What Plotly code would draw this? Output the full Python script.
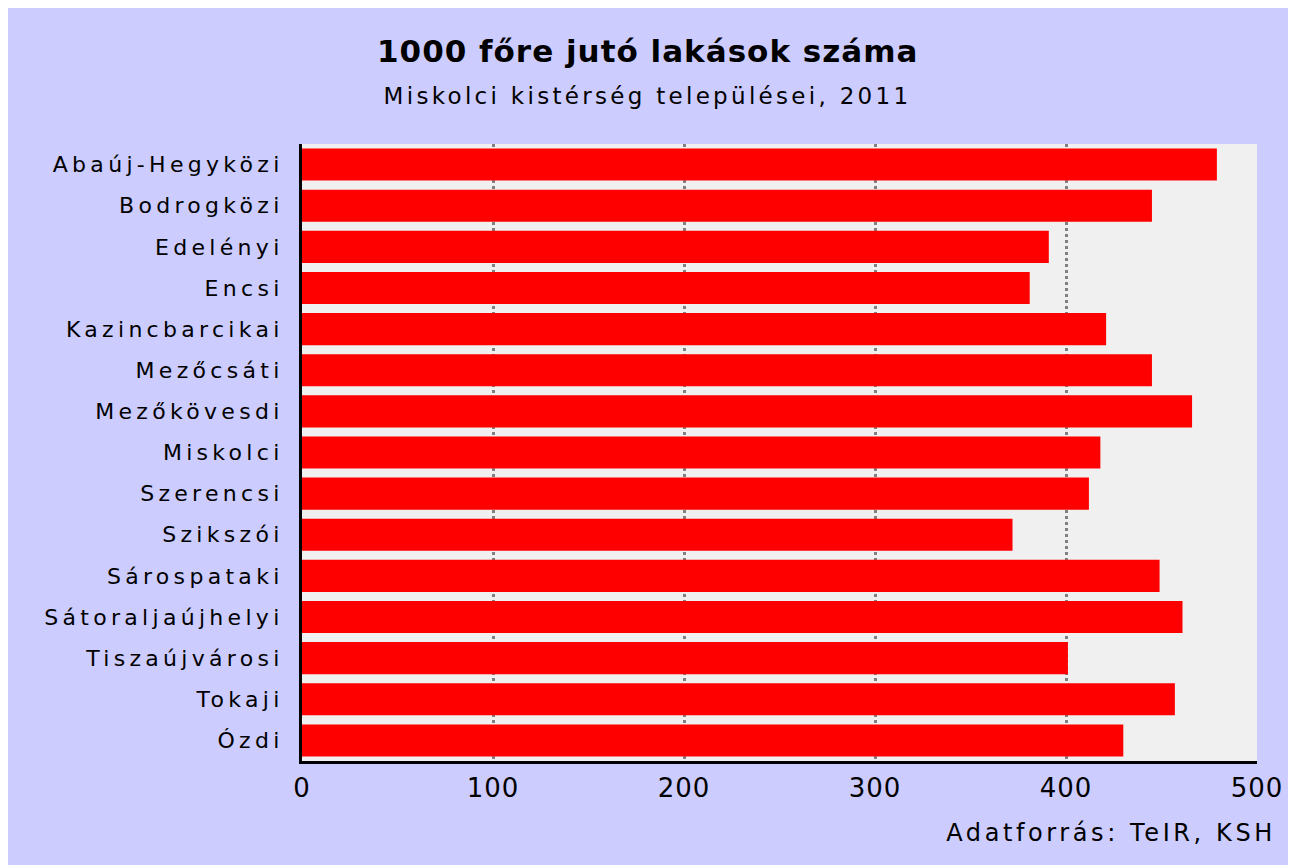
import plotly.graph_objects as go

categories = ["Abaúj-Hegyközi", "Bodrogközi", "Edelényi", "Encsi", "Kazincbarcikai",
              "Mezőcsáti", "Mezőkövesdi", "Miskolci", "Szerencsi", "Szikszói",
              "Sárospataki", "Sátoraljaújhelyi", "Tiszaújvárosi", "Tokaji", "Ózdi"]
values = [479, 445, 391, 381, 421, 445, 466, 418, 412, 372, 449, 461, 401, 457, 430]
x_ticks = [0, 100, 200, 300, 400, 500]

title_text = "1000 főre jutó lakások száma"
subtitle_text = "Miskolci kistérség települései, 2011"
source_text = "Adatforrás: TeIR, KSH"

# page body has an 8px margin: work in page coords minus 8
OFF = 8
W, H = 1296 - OFF, 865 - OFF
L, T = 302 - OFF, 144 - OFF
R = W - (1257 - OFF)
B = H - (761 - OFF)
pw, ph = W - L - R, H - T - B

def px(x):
    return (x - OFF - L) / pw

def py(y):
    return (H - B - (y - OFF)) / ph

fig = go.Figure(go.Bar(
    x=values, y=categories, orientation="h",
    marker=dict(color="#FF0000", line=dict(width=0)),
))

FONT = "DejaVu Sans"
fig.update_layout(
    width=W, height=H,
    margin=dict(l=L, r=R, t=T, b=B, autoexpand=False),
    paper_bgcolor="#CCCCFF",
    plot_bgcolor="#F0F0F0",
    bargap=0.22,
    showlegend=False,
    font=dict(family=FONT, color="black"),
    xaxis=dict(
        range=[0, 500], tickvals=x_ticks, ticktext=[str(v) for v in x_ticks],
        showgrid=True, gridcolor="#808080", gridwidth=3, griddash="dot",
        zeroline=False, showline=True, linecolor="black", linewidth=3,
        ticks="", tickfont=dict(size=26, family=FONT), ticklabelstandoff=2,
        fixedrange=True,
    ),
    yaxis=dict(
        autorange="reversed", showgrid=False, zeroline=False,
        showline=True, linecolor="black", linewidth=3,
        ticks="", tickfont=dict(size=22, family=FONT), ticklabelstandoff=11,
        fixedrange=True,
    ),
    annotations=[
        dict(text="<b>" + title_text + "</b>", xref="paper", yref="paper",
             x=px(647), y=py(51), xanchor="center", yanchor="middle",
             showarrow=False, font=dict(size=31, family=FONT, color="black")),
        dict(text=subtitle_text, xref="paper", yref="paper",
             x=px(647), y=py(96), xanchor="center", yanchor="middle",
             showarrow=False, font=dict(size=23, family=FONT, color="black")),
        dict(text=source_text, xref="paper", yref="paper",
             x=px(1111), y=py(833), xanchor="center", yanchor="middle",
             showarrow=False, font=dict(size=24, family=FONT, color="black")),
    ],
)

post = """
(function(){
  var gd = document.getElementById('{plot_id}');
  function ls(){
    gd.querySelectorAll('.ytick text').forEach(function(t){t.style.letterSpacing='4.3px';});
    gd.querySelectorAll('.xtick text').forEach(function(t){t.style.letterSpacing='1px';});
    var sp = ['1px', '3.3px', '3.6px'];
    gd.querySelectorAll('g.annotation').forEach(function(g){
      var i = parseInt(g.getAttribute('data-index'));
      var t = g.querySelector('text');
      if (t && !isNaN(i)) { t.style.letterSpacing = sp[i]; }
    });
  }
  ls();
  setTimeout(ls, 0);
  if (gd.on) { gd.on('plotly_afterplot', ls); }
})();
"""

fig.write_html("out.html", post_script=post)
